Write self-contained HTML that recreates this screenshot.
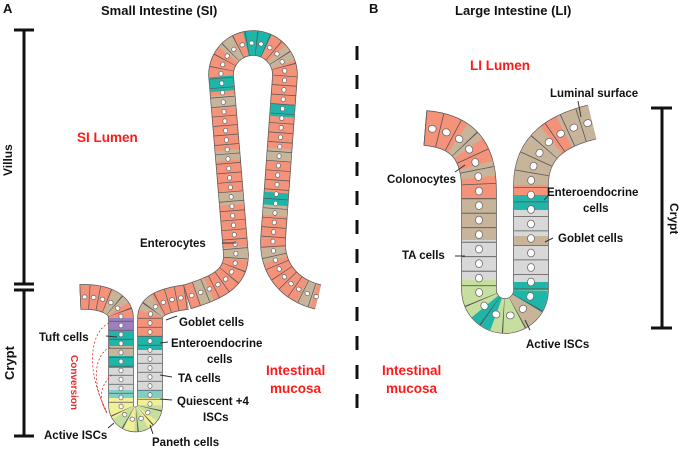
<!DOCTYPE html>
<html><head><meta charset="utf-8"><style>
html,body{margin:0;padding:0;background:#fff}
svg{display:block}
text{font-family:"Liberation Sans",Arial,sans-serif;font-weight:bold}
</style></head><body>
<svg width="685" height="449" viewBox="0 0 685 449" xmlns="http://www.w3.org/2000/svg">
<defs>
<path id="sic" d="M80,297 C102,296 121,303 121,318 L121,405 A14.5,14.5 0 0 0 150,405 L150,318 C150,305 165,300 187,297"/>
<path id="siv" d="M187,297 C215,288 236,280 236,255 L221,75 A32,32 0 0 1 285,75 L273,240 C272,270 290,290 318,297"/>
<path id="li" d="M425,128 C462,131 479,150 479,190 L479,290 A26,26 0 0 0 531,290 L531,185 C531,145 560,130 592,122"/>
</defs>

<!-- SI crypt -->
<use href="#sic" stroke="#555" stroke-width="25.5" fill="none"/>
<use href="#sic" stroke="#f4927a" stroke-width="24" fill="none"/>
<path d="M80,297 C102,296 121,303 121,318" pathLength="48" fill="none" stroke-width="24" stroke="#c8b49a" stroke-dasharray="0 27 12 48"/>
<g stroke-width="24">
<line x1="121" y1="318" x2="121" y2="331" stroke="#9b7fc0"/>
<line x1="121" y1="331" x2="121" y2="346" stroke="#1fb5a8"/>
<line x1="121" y1="346" x2="121" y2="356" stroke="#c8b49a"/>
<line x1="121" y1="356" x2="121" y2="368" stroke="#1fb5a8"/>
<line x1="121" y1="368" x2="121" y2="390" stroke="#d8d8d8"/>
<line x1="121" y1="390" x2="121" y2="398" stroke="#7fcfc6"/>
<line x1="121" y1="398" x2="121" y2="405.5" stroke="#f3ef98"/>
<line x1="150" y1="405.5" x2="150" y2="398" stroke="#f3ef98"/>
<line x1="150" y1="398" x2="150" y2="390" stroke="#7fcfc6"/>
<line x1="150" y1="390" x2="150" y2="350" stroke="#d8d8d8"/>
<line x1="150" y1="350" x2="150" y2="336" stroke="#1fb5a8"/>
</g>
<path d="M121,405 A14.5,14.5 0 0 0 150,405" fill="none" stroke-width="24" stroke="#f3ef98"/>
<path d="M121,405 A14.5,14.5 0 0 0 150,405" pathLength="45" fill="none" stroke-width="24" stroke="#c6df9e" stroke-dasharray="0 8 8 6 8 6 9 45"/>
<path d="M150,318 C150,305 165,300 187,297" pathLength="42" fill="none" stroke-width="24" stroke="#c8b49a" stroke-dasharray="0 4 10 42"/>
<use href="#sic" fill="none" stroke-width="24" stroke="#555" stroke-dasharray="0.7 8.3"/>
<use href="#sic" fill="none" stroke-width="4.8" stroke="#666" stroke-linecap="round" stroke-dasharray="0.6 8.4" stroke-dashoffset="-4.3"/>
<use href="#sic" fill="none" stroke-width="3.4" stroke="#fff" stroke-linecap="round" stroke-dasharray="0.6 8.4" stroke-dashoffset="-4.3"/>

<!-- SI villus -->
<use href="#siv" stroke="#555" stroke-width="25.5" fill="none"/>
<use href="#siv" stroke="#f4927a" stroke-width="24" fill="none"/>
<path d="M187,297 C215,288 236,280 236,255 L221,75 A32,32 0 0 1 285,75 L273,240 C272,270 290,290 318,297" pathLength="564" fill="none" stroke-width="24"
 stroke="#c8b49a" stroke-dasharray="0 10 12 40 12 40 12 30 10 40 12 40 12 40 12 40 10 30 12 40 12 30 12 40 12 50 14 564"/>
<path d="M187,297 C215,288 236,280 236,255 L221,75 A32,32 0 0 1 285,75 L273,240 C272,270 290,290 318,297" pathLength="564" fill="none" stroke-width="24"
 stroke="#1fb5a8" stroke-dasharray="0 222 14 42 20 62 12 72 12 564"/>
<use href="#siv" fill="none" stroke-width="24" stroke="#555" stroke-dasharray="0.7 8.8"/>
<use href="#siv" fill="none" stroke-width="4.8" stroke="#666" stroke-linecap="round" stroke-dasharray="0.6 8.9" stroke-dashoffset="-4.5"/>
<use href="#siv" fill="none" stroke-width="3.4" stroke="#fff" stroke-linecap="round" stroke-dasharray="0.6 8.9" stroke-dashoffset="-4.5"/>

<!-- LI crypt -->
<use href="#li" stroke="#555" stroke-width="35.5" fill="none"/>
<use href="#li" stroke="#f4927a" stroke-width="34" fill="none"/>
<path d="M425,128 C462,131 479,150 479,190" pathLength="75" fill="none" stroke-width="34" stroke="#c8b49a" stroke-dasharray="0 28 12 15 10 75"/>
<g stroke-width="34">
<line x1="479" y1="200" x2="479" y2="240" stroke="#c8b49a"/>
<line x1="479" y1="240" x2="479" y2="280" stroke="#d8d8d8"/>
<line x1="479" y1="280" x2="479" y2="290.5" stroke="#c6df9e"/>
<line x1="531" y1="290.5" x2="531" y2="282" stroke="#1fb5a8"/>
<line x1="531" y1="282" x2="531" y2="245" stroke="#d8d8d8"/>
<line x1="531" y1="245" x2="531" y2="236" stroke="#c8b49a"/>
<line x1="531" y1="236" x2="531" y2="210" stroke="#d8d8d8"/>
<line x1="531" y1="210" x2="531" y2="195" stroke="#1fb5a8"/>
</g>
<path d="M479,290 A26,26 0 0 0 531,290" fill="none" stroke-width="34" stroke="#c6df9e"/>
<path d="M479,290 A26,26 0 0 0 531,290" pathLength="82" fill="none" stroke-width="34" stroke="#1fb5a8" stroke-dasharray="0 18 14 36 14 82"/>
<path d="M479,290 A26,26 0 0 0 531,290" pathLength="82" fill="none" stroke-width="34" stroke="#c8b49a" stroke-dasharray="0 55 13 82"/>
<path d="M531,185 C531,145 560,130 592,122" pathLength="75" fill="none" stroke-width="34" stroke="#c8b49a" stroke-dasharray="0 0 40 12 23 75"/>
<use href="#li" fill="none" stroke-width="34" stroke="#555" stroke-dasharray="0.8 13.7"/>
<use href="#li" fill="none" stroke-width="7.5" stroke="#666" stroke-linecap="round" stroke-dasharray="1 13.5" stroke-dashoffset="-6.8"/>
<use href="#li" fill="none" stroke-width="6" stroke="#fff" stroke-linecap="round" stroke-dasharray="1 13.5" stroke-dashoffset="-6.8"/>

<!-- brackets -->
<g stroke="#111" stroke-width="3" fill="none">
<line x1="24" y1="30" x2="24" y2="284"/><line x1="14" y1="30" x2="34" y2="30"/><line x1="14" y1="284" x2="34" y2="284"/>
<line x1="24" y1="290" x2="24" y2="436"/><line x1="14" y1="290" x2="34" y2="290"/><line x1="14" y1="436" x2="34" y2="436"/>
<line x1="662" y1="108" x2="662" y2="328"/><line x1="651" y1="108" x2="672" y2="108"/><line x1="651" y1="328" x2="672" y2="328"/>
<line x1="357" y1="46" x2="357" y2="412" stroke-dasharray="14 15"/>
</g>
<!-- leader lines -->
<g stroke="#333" stroke-width="1" fill="none">
<line x1="222" y1="243" x2="236" y2="243"/>
<line x1="106" y1="336" x2="117" y2="337"/>
<line x1="166" y1="320" x2="177" y2="316"/>
<line x1="160" y1="343" x2="168" y2="342"/>
<line x1="160" y1="375" x2="172" y2="377"/>
<line x1="160" y1="399" x2="172" y2="400"/>
<line x1="108" y1="428" x2="114" y2="423"/>
<line x1="150" y1="425" x2="153" y2="434"/>
<line x1="465" y1="165" x2="455" y2="172"/>
<line x1="544" y1="200" x2="548" y2="196"/>
<line x1="545" y1="242" x2="553" y2="238"/>
<line x1="455" y1="256" x2="465" y2="256"/>
<line x1="525" y1="320" x2="530" y2="330"/>
<line x1="581" y1="117" x2="578" y2="101"/>
</g>
<!-- conversion arrows -->
<g stroke="#e03030" stroke-width="0.8" fill="none" stroke-dasharray="2 2">
<path d="M109,323 C90,332 85,370 107,412"/>
<path d="M110,347 C95,355 90,380 107,413"/>
<path d="M112,375 C100,385 98,400 107,413"/>
</g>
<text transform="translate(71,355) rotate(90)" font-size="10" fill="#e03030" font-weight="normal">Conversion</text>

<!-- titles -->
<g fill="#111">
<text x="3" y="13" font-size="13">A</text>
<text x="101" y="15" font-size="13">Small Intestine (SI)</text>
<text x="369" y="13" font-size="13">B</text>
<text x="455" y="15" font-size="13">Large Intestine (LI)</text>
<text transform="translate(12,176) rotate(-90)" font-size="12">Villus</text>
<text transform="translate(14,380) rotate(-90)" font-size="13">Crypt</text>
<text transform="translate(670,203) rotate(90)" font-size="12">Crypt</text>
<g font-size="11.5">
<text x="140" y="247">Enterocytes</text>
<text x="39" y="341">Tuft cells</text>
<text x="179" y="326">Goblet cells</text>
<text x="171" y="347">Enteroendocrine</text>
<text x="207" y="363">cells</text>
<text x="178" y="382">TA cells</text>
<text x="177" y="405">Quiescent +4</text>
<text x="203" y="421">ISCs</text>
<text x="44" y="439">Active ISCs</text>
<text x="152" y="446">Paneth cells</text>
<text x="550" y="97">Luminal surface</text>
<text x="387" y="183">Colonocytes</text>
<text x="547" y="196">Enteroendocrine</text>
<text x="583" y="212">cells</text>
<text x="558" y="242">Goblet cells</text>
<text x="402" y="259">TA cells</text>
<text x="526" y="348">Active ISCs</text>
</g>
</g>
<g fill="#ff1a1a" font-size="13.5">
<text x="77" y="142">SI Lumen</text>
<text x="266" y="375">Intestinal</text>
<text x="270" y="393">mucosa</text>
<text x="470" y="70">LI Lumen</text>
<text x="382" y="375">Intestinal</text>
<text x="386" y="393">mucosa</text>
</g>
</svg>
</body></html>
